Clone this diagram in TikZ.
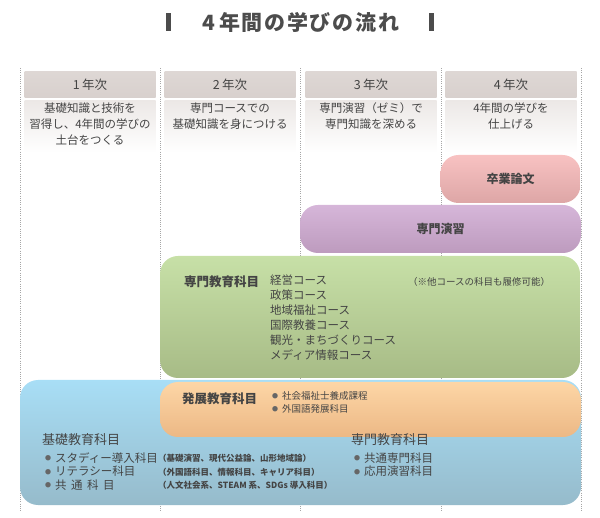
\documentclass[tikz,border=0pt]{standalone}
\usepackage{fontspec}
\setmainfont{Noto Sans CJK JP}
\usetikzlibrary{positioning}
\definecolor{txt}{HTML}{444444}
\definecolor{hdr}{HTML}{D8D0CD}
\definecolor{dsc}{HTML}{ECE8E6}
\definecolor{pinkT}{HTML}{F8C2C2}
\definecolor{pinkB}{HTML}{DDA6A6}
\definecolor{purpT}{HTML}{D6B6D9}
\definecolor{purpB}{HTML}{BD9BBE}
\definecolor{grnT}{HTML}{C7E0A7}
\definecolor{grnB}{HTML}{A7BB86}
\definecolor{orgT}{HTML}{FDD6A6}
\definecolor{orgB}{HTML}{ECB885}
\definecolor{bluT}{HTML}{A8DEF6}
\definecolor{bluB}{HTML}{96BBCB}
\newcommand{\bul}{\raisebox{1.6pt}{\color{black!60}\fontsize{6}{7}\selectfont ●}\hspace{4pt}}
\tikzset{
  yearhead/.style={rectangle, top color=hdr!85!white, bottom color=hdr, draw=none,
                   minimum width=131pt, minimum height=26pt, text=txt,
                   font=\fontsize{12.5}{14}\selectfont},
  yeardesc/.style={rectangle, top color=dsc, bottom color=white, draw=none,
                   minimum width=131pt, minimum height=52pt, text=txt},
  desctext/.style={align=center, text=txt, font=\fontsize{11.5}{16}\selectfont},
  bande/.style={rectangle, rounded corners=18pt, top color=#1T, bottom color=#1B, draw=none,
                text=txt, font=\bfseries\fontsize{12}{14}\selectfont},
  head/.style={anchor=west, text=txt, inner sep=0pt, font=\fontsize{12.5}{14}\selectfont},
  lst/.style={anchor=north west, align=left, text=txt, inner sep=0pt},
  sep/.style={gray!70, line width=0.6pt, dash pattern=on 1pt off 1.2pt},
}
\begin{document}
\begin{tikzpicture}[x=1pt,y=-1pt]
    \useasboundingbox (0,0) rectangle (600,518);
    % title
    \fill[black!70] (166,13) rectangle (171,31);
    \fill[black!70] (429,13) rectangle (434,31);
    \node[text=black!70, font=\bfseries\fontsize{21}{23}\selectfont\addfontfeature{LetterSpace=8}] (title) at (301,22) {4\,年間の学びの流れ};
    % column separators
    \draw[sep] (20,68) -- (20,512);
    \draw[sep] (160,68) -- (160,512);
    \draw[sep] (300,68) -- (300,512);
    \draw[sep] (441,68) -- (441,512);
    \draw[sep] (581,68) -- (581,512);
    % year headers
    \node[yearhead] (yr1) at (90,85) {1\,年次};
    \node[yearhead] (yr2) at (230,85) {2\,年次};
    \node[yearhead] (yr3) at (371,85) {3\,年次};
    \node[yearhead] (yr4) at (511,85) {4\,年次};
    \node[yeardesc, below=2pt of yr1] (desc1) {};
    \node[yeardesc, below=2pt of yr2] (desc2) {};
    \node[yeardesc, below=2pt of yr3] (desc3) {};
    \node[yeardesc, below=2pt of yr4] (desc4) {};
    \node[desctext, anchor=north] (d1) at (90,99) {基礎知識と技術を\\習得し、4年間の学びの\\土台をつくる};
    \node[desctext, anchor=north] (d2) at (230,99) {専門コースでの\\基礎知識を身につける};
    \node[desctext, anchor=north] (d3) at (371,99) {専門演習（ゼミ）で\\専門知識を深める};
    \node[desctext, anchor=north] (d4) at (511,99) {4年間の学びを\\仕上げる};
    % bands
    \node[bande=pink, minimum width=140pt, minimum height=48pt] (thesis) at (510.5,179) {卒業論文};
    \node[bande=purp, minimum width=281pt, minimum height=48pt] (seminar) at (440.5,229) {専門演習};
    \node[bande=grn, minimum width=420pt, minimum height=122pt] (senmon) at (370,317) {};
    \node[bande=blu, minimum width=561pt, minimum height=125pt] (kiso) at (300.5,442.5) {};
    \node[bande=org, minimum width=421pt, minimum height=55pt] (hatten) at (370.5,409.5) {};
    % green
    \node[head, font=\bfseries\fontsize{12.5}{14}\selectfont] (senmonT) at (184,282) {専門教育科目};
    \node[lst, font=\fontsize{11.5}{15}\selectfont] (courses) at (270,274.5)
      {経営コース\\政策コース\\地域福祉コース\\国際教養コース\\観光・まちづくりコース\\メディア情報コース};
    \node[head, font=\fontsize{9.5}{11}\selectfont] (note) at (408,282) {（※他コースの科目も履修可能）};
    % orange
    \node[head, font=\bfseries\fontsize{12.5}{14}\selectfont] (hattenT) at (182,399) {発展教育科目};
    \node[lst, font=\fontsize{9.5}{13}\selectfont] (hattenL) at (272,391.5)
      {\bul 社会福祉士養成課程\\\bul 外国語発展科目};
    % blue
    \node[head, font=\fontsize{13}{14}\selectfont] (kisoT) at (42,440) {基礎教育科目};
    \node[lst, font=\fontsize{11.5}{13.5}\selectfont] (kisoL) at (45,452.5)
      {\bul スタディー導入科目\\\bul リテラシー科目\\\bul 共\ \,通\ \,科\ \,目};
    \node[lst, font=\bfseries\fontsize{8.5}{13.5}\selectfont] (kisoN) at (158,454)
      {（基礎演習、現代公益論、山形地域論）\\（外国語科目、情報科目、キャリア科目）\\（人文社会系、STEAM 系、SDGs 導入科目）};
    \node[head, font=\fontsize{13}{14}\selectfont] (senmon2T) at (351,440) {専門教育科目};
    \node[lst, font=\fontsize{11.5}{13.5}\selectfont] (senmon2L) at (354,452.5)
      {\bul 共通専門科目\\\bul 応用演習科目};
  \end{tikzpicture}
\end{document}
